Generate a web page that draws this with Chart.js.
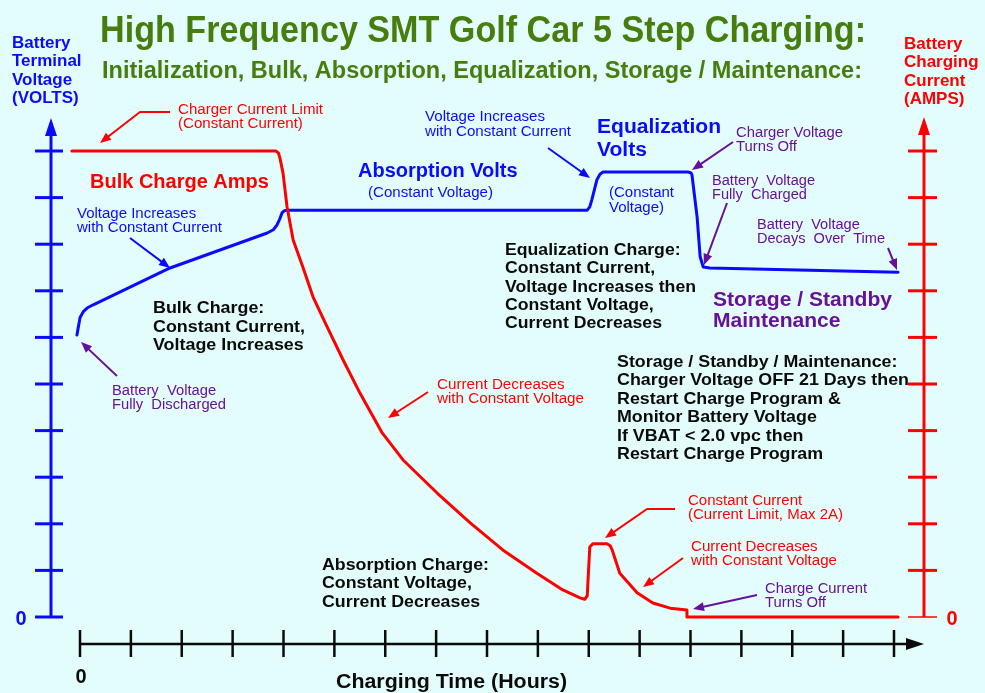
<!DOCTYPE html>
<html><head><meta charset="utf-8">
<script src="https://cdn.jsdelivr.net/npm/chart.js@4/dist/chart.umd.min.js"></script>
<style>html,body{margin:0;padding:0;background:#e3fdfd;}canvas{display:block}</style>
</head><body>
<canvas id="c" width="985" height="693"></canvas>
<script>
// ---- data ----
const hourTicks = [0,1,2,3,4,5,6,7,8,9,10,11,12,13,14,15,16];
const voltTicks = [0,1,2,3,4,5,6,7,8,9,10];
const ampTicks  = [0,1,2,3,4,5,6,7,8,9,10];
const voltTime   = [-0.06,0,0.07,0.14,0.26,1.77,3.68,3.8,3.87,3.93,3.97,4.02,4.07,9.97,10.02,10.06,10.16,10.22,10.28,11.95,12.01,12.03,12.13,12.19,12.25,12.38,16.08];
const voltValues = [6.05,6.42,6.56,6.63,6.70,7.49,8.24,8.31,8.41,8.55,8.67,8.72,8.73,8.73,8.8,8.95,9.38,9.5,9.55,9.55,9.53,9.48,8.58,7.73,7.51,7.49,7.40];
const ampTime   = [-0.16,3.85,3.9,3.93,3.99,4.07,4.19,4.38,4.58,4.86,5.17,5.5,5.94,6.35,7.02,7.67,8.31,8.98,9.49,9.83,9.92,9.97,10.02,10.08,10.36,10.42,10.46,10.61,10.95,11.26,11.6,11.93,11.93,16.08];
const ampValues = [10,10,9.96,9.85,9.53,8.8,8.09,7.51,6.87,6.22,5.52,4.81,3.95,3.37,2.66,2.02,1.44,0.94,0.58,0.41,0.38,0.45,1.5,1.57,1.57,1.53,1.44,0.94,0.52,0.30,0.19,0.15,0,0];

const BLUE='#0a0aff', RED='#ff0000', PURPLE='#661199', GREEN='#467d0c', BLACK='#0a0a0a', BG='#e3fdfd';
const FAM = "'Liberation Sans', Arial, sans-serif";

const notes = [
 {t:['High Frequency SMT Golf Car 5 Step Charging:'], x:100, y:42, s:37, b:true, c:GREEN, w:766},
 {t:['Initialization, Bulk, Absorption, Equalization, Storage / Maintenance:'], x:102, y:78, s:23, b:true, c:GREEN, w:760},
 {t:['Battery','Terminal','Voltage','(VOLTS)'], x:12, y:48, lh:18.4, s:17, b:true, c:BLUE},
 {t:['Battery','Charging','Current','(AMPS)'], x:904, y:49, lh:18.4, s:17, b:true, c:RED},
 {t:['Charger Current Limit','(Constant Current)'], x:178, y:114, lh:14, s:14, c:RED, w:145},
 {t:['Bulk Charge Amps'], x:90, y:188, s:20, b:true, c:RED},
 {t:['Voltage Increases','with Constant Current'], x:77, y:218, lh:14, s:14, c:BLUE, w:145},
 {t:['Bulk Charge:','Constant Current,','Voltage Increases'], x:153, y:313, lh:18.7, s:16.5, b:true, c:BLACK, w:152},
 {t:['Battery  Voltage','Fully  Discharged'], x:112, y:395, lh:13.5, s:14, c:PURPLE, w:114},
 {t:['Absorption Volts'], x:358, y:177, s:20, b:true, c:BLUE},
 {t:['(Constant Voltage)'], x:368, y:197, s:14, c:BLUE, w:125},
 {t:['Voltage Increases','with Constant Current'], x:425, y:121, lh:15, s:14, c:BLUE, w:146},
 {t:['Equalization','Volts'], x:597, y:133, lh:23, s:20, b:true, c:BLUE, w:124},
 {t:['(Constant','Voltage)'], x:609, y:197, lh:15, s:14, c:BLUE, w:65},
 {t:['Charger Voltage','Turns Off'], x:736, y:137, lh:14, s:14, c:PURPLE, w:107},
 {t:['Battery  Voltage','Fully  Charged'], x:712, y:185, lh:13.5, s:14, c:PURPLE, w:103},
 {t:['Battery  Voltage','Decays  Over  Time'], x:757, y:229, lh:13.5, s:14, c:PURPLE, w:128},
 {t:['Equalization Charge:','Constant Current,','Voltage Increases then','Constant Voltage,','Current Decreases'], x:505, y:255, lh:18.3, s:16.5, b:true, c:BLACK, w:191},
 {t:['Storage / Standby','Maintenance'], x:713, y:306, lh:21, s:20, b:true, c:PURPLE, w:179},
 {t:['Storage / Standby / Maintenance:','Charger Voltage OFF 21 Days then','Restart Charge Program &','Monitor Battery Voltage','If VBAT < 2.0 vpc then','Restart Charge Program'], x:617, y:367, lh:18.4, s:16.5, b:true, c:BLACK, w:292},
 {t:['Current Decreases','with Constant Voltage'], x:437, y:388.5, lh:14, s:14, c:RED, w:147},
 {t:['Absorption Charge:','Constant Voltage,','Current Decreases'], x:322, y:570, lh:18.4, s:16.5, b:true, c:BLACK, w:167},
 {t:['Constant Current','(Current Limit, Max 2A)'], x:688, y:505, lh:14.3, s:14, c:RED, w:155},
 {t:['Current Decreases','with Constant Voltage'], x:691, y:551, lh:14.3, s:14, c:RED, w:146},
 {t:['Charge Current','Turns Off'], x:765, y:593, lh:14, s:14, c:PURPLE, w:102},
 {t:['Charging Time (Hours)'], x:336, y:688, s:20, b:true, c:BLACK, w:231}
];

const arrows = [
 {c:RED,    p:[[170,112],[140,112],[100,143]]},
 {c:BLUE,   p:[[130,238],[170,268]]},
 {c:PURPLE, p:[[117,376],[81,342]]},
 {c:BLUE,   p:[[548,148],[590,178]]},
 {c:PURPLE, p:[[733,142],[692,170]]},
 {c:PURPLE, p:[[727,203],[704,265]]},
 {c:PURPLE, p:[[888,248],[897,270]]},
 {c:RED,    p:[[428,392],[388,418]]},
 {c:RED,    p:[[675,509],[647,509],[605,538]]},
 {c:RED,    p:[[683,558],[643,587]]},
 {c:PURPLE, p:[[757,595],[693,609]]}
];

function drawBlock(ctx, n){
  ctx.save();
  ctx.font = (n.b?'bold ':'') + n.s + 'px ' + FAM;
  ctx.fillStyle = n.c;
  ctx.textAlign = 'left';
  ctx.textBaseline = 'alphabetic';
  let k = 1;
  if (n.w){
    const m = Math.max(...n.t.map(s=>ctx.measureText(s).width));
    k = n.w / m;
  }
  n.t.forEach((s,i)=>{
    ctx.save();
    ctx.translate(n.x, n.y + i*(n.lh||0));
    ctx.scale(k,1);
    ctx.fillText(s,0,0);
    ctx.restore();
  });
  ctx.restore();
}
function head(ctx, x, y, ang, len, hw, color){
  ctx.save();
  ctx.fillStyle = color;
  ctx.translate(x,y); ctx.rotate(ang);
  ctx.beginPath(); ctx.moveTo(0,0); ctx.lineTo(-len,-hw); ctx.lineTo(-len,hw); ctx.closePath(); ctx.fill();
  ctx.restore();
}
function drawArrow(ctx, a){
  const p = a.p, n = p.length;
  const [x1,y1] = p[n-2], [x2,y2] = p[n-1];
  const ang = Math.atan2(y2-y1, x2-x1);
  ctx.save();
  ctx.strokeStyle = a.c; ctx.lineWidth = 2; ctx.lineJoin='round';
  ctx.beginPath(); ctx.moveTo(p[0][0],p[0][1]);
  for (let i=1;i<n-1;i++) ctx.lineTo(p[i][0],p[i][1]);
  ctx.lineTo(x2-Math.cos(ang)*6, y2-Math.sin(ang)*6);
  ctx.stroke();
  ctx.restore();
  head(ctx, x2, y2, ang, 11, 4.5, a.c);
}

const decor = {
  id:'decor',
  beforeDraw(chart){
    const ctx = chart.ctx;
    ctx.save(); ctx.fillStyle = BG; ctx.fillRect(0,0,chart.width,chart.height); ctx.restore();
  },
  beforeDatasetsDraw(chart){
    const ctx = chart.ctx, xs = chart.scales.x, ys = chart.scales.y, y2 = chart.scales.y2;
    const LX = 51, RX = 924, BY = 644;
    ctx.save();
    // left (voltage) axis
    ctx.strokeStyle = BLUE; ctx.lineWidth = 3;
    ctx.beginPath(); ctx.moveTo(LX, ys.getPixelForValue(voltTicks[0])); ctx.lineTo(LX, 132); ctx.stroke();
    voltTicks.forEach(v=>{ const y = ys.getPixelForValue(v); ctx.beginPath(); ctx.moveTo(35,y); ctx.lineTo(63,y); ctx.stroke(); });
    head(ctx, LX, 118, -Math.PI/2, 18, 6, BLUE);
    // right (current) axis
    ctx.strokeStyle = RED;
    ctx.beginPath(); ctx.moveTo(RX, y2.getPixelForValue(ampTicks[0])); ctx.lineTo(RX, 132); ctx.stroke();
    ampTicks.forEach(v=>{ const y = y2.getPixelForValue(v); ctx.lineWidth = v===0?1.5:3; ctx.beginPath(); ctx.moveTo(908,y); ctx.lineTo(937,y); ctx.stroke(); });
    head(ctx, RX, 117, -Math.PI/2, 18, 6, RED);
    // time axis
    ctx.strokeStyle = BLACK; ctx.lineWidth = 2.5;
    ctx.beginPath(); ctx.moveTo(xs.getPixelForValue(hourTicks[0]), BY); ctx.lineTo(910, BY); ctx.stroke();
    hourTicks.forEach(h=>{ const x = xs.getPixelForValue(h); ctx.beginPath(); ctx.moveTo(x,630); ctx.lineTo(x,657); ctx.stroke(); });
    head(ctx, 924, BY, 0, 18, 6, BLACK);
    // zero labels
    ctx.font = 'bold 20px ' + FAM; ctx.textAlign='center'; ctx.textBaseline='alphabetic';
    ctx.fillStyle = BLUE;  ctx.fillText(String(voltTicks[0]), 21, ys.getPixelForValue(0)+7.5);
    ctx.fillStyle = RED;   ctx.fillText(String(ampTicks[0]), 952, y2.getPixelForValue(0)+7.5);
    ctx.fillStyle = BLACK; ctx.fillText(String(hourTicks[0]), xs.getPixelForValue(0)+1, 683);
    ctx.restore();
  },
  afterDatasetsDraw(chart){
    const ctx = chart.ctx;
    notes.forEach(n=>drawBlock(ctx,n));
    arrows.forEach(a=>drawArrow(ctx,a));
  }
};

new Chart(document.getElementById('c'), {
  type:'line',
  data:{ datasets:[
    { label:'Battery Charging Current (AMPS)', data: ampTime.map((t,i)=>({x:t,y:ampValues[i]})), yAxisID:'y2',
      borderColor:RED, borderWidth:3, pointRadius:0, tension:0, clip:false, borderJoinStyle:'round', borderCapStyle:'round', fill:false },
    { label:'Battery Terminal Voltage (VOLTS)', data: voltTime.map((t,i)=>({x:t,y:voltValues[i]})), yAxisID:'y',
      borderColor:BLUE, borderWidth:3, pointRadius:0, tension:0, clip:false, borderJoinStyle:'round', borderCapStyle:'round', fill:false }
  ]},
  options:{
    responsive:false, animation:false, events:[],
    layout:{ padding:{ left:80, right:91, top:151, bottom:76 } },
    plugins:{ legend:{display:false}, tooltip:{enabled:false}, title:{display:false} },
    scales:{
      x:{ type:'linear', min:hourTicks[0], max:hourTicks[hourTicks.length-1], display:false },
      y:{ type:'linear', min:voltTicks[0], max:voltTicks[voltTicks.length-1], display:false },
      y2:{ type:'linear', position:'right', min:ampTicks[0], max:ampTicks[ampTicks.length-1], display:false }
    }
  },
  plugins:[decor]
});
</script>
</body></html>
